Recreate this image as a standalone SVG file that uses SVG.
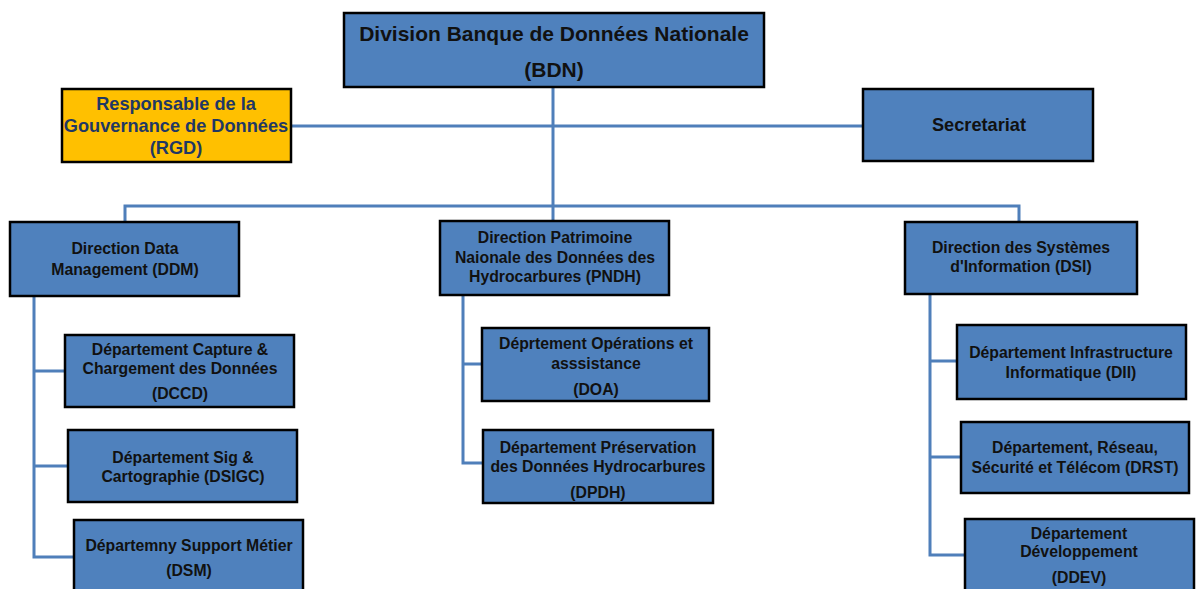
<svg xmlns="http://www.w3.org/2000/svg" width="1200" height="589" viewBox="0 0 1200 589">
<style>
.box{fill:#4F81BD;stroke:#000;stroke-width:2.5}
.gold{fill:#FFC000;stroke:#000;stroke-width:2.5}
.t{font-family:"Liberation Sans",Arial,sans-serif;font-weight:bold;font-size:15.8px;fill:#111;text-anchor:middle;dominant-baseline:central}
.big{font-size:21px}
.rgd{font-size:18.2px;fill:#1F3864}
.sec{font-size:18.2px}
.c{fill:none;stroke:#4F7FBA;stroke-width:3}
</style>
<rect width="1200" height="589" fill="#fff"/>
<g id="connectors">
<path class="c" d="M553 87V221"/>
<path class="c" d="M291 126H863"/>
<path class="c" d="M125 222V206H1019V222"/>
<path class="c" d="M34 296V557H74M34 371H65M34 466H68"/>
<path class="c" d="M463 295V463H483M463 364H482"/>
<path class="c" d="M930 294V555H965M930 361H957M930 457H961"/>
</g>
<g id="bdn"><rect class="box" x="344" y="13" width="420" height="74"/><text class="t big" x="554" y="33">Division Banque de Données Nationale</text><text class="t big" x="554" y="69">(BDN)</text></g>
<g id="rgd"><rect class="gold" x="62" y="89" width="229" height="73"/><text class="t rgd" x="176" y="104">Responsable de la</text><text class="t rgd" x="176" y="126">Gouvernance de Données</text><text class="t rgd" x="176" y="148">(RGD)</text></g>
<g id="sec"><rect class="box" x="863" y="89" width="230" height="72"/><text class="t sec" x="979" y="125">Secretariat</text></g>
<g id="ddm"><rect class="box" x="10" y="222" width="229" height="74"/><text class="t" x="125" y="248">Direction Data</text><text class="t" x="125" y="269">Management (DDM)</text></g>
<g id="pndh"><rect class="box" x="440" y="221" width="229" height="74"/><text class="t" x="555" y="237">Direction Patrimoine</text><text class="t" x="555" y="257">Naionale des Données des</text><text class="t" x="555" y="276">Hydrocarbures (PNDH)</text></g>
<g id="dsi"><rect class="box" x="905" y="222" width="232" height="72"/><text class="t" x="1021" y="247">Direction des Systèmes</text><text class="t" x="1021" y="266">d'Information (DSI)</text></g>
<g id="dccd"><rect class="box" x="65" y="335" width="229" height="72"/><text class="t" x="180" y="349">Département Capture &amp;</text><text class="t" x="180" y="368">Chargement des Données</text><text class="t" x="180" y="393">(DCCD)</text></g>
<g id="dsigc"><rect class="box" x="68" y="430" width="229" height="72"/><text class="t" x="183" y="457">Département Sig &amp;</text><text class="t" x="183" y="476">Cartographie (DSIGC)</text></g>
<g id="dsm"><rect class="box" x="74" y="520" width="229" height="80"/><text class="t" x="189" y="545">Départemny Support Métier</text><text class="t" x="189" y="570">(DSM)</text></g>
<g id="doa"><rect class="box" x="482" y="328" width="227" height="73"/><text class="t" x="596" y="343">Déprtement Opérations et</text><text class="t" x="596" y="363">asssistance</text><text class="t" x="596" y="389">(DOA)</text></g>
<g id="dpdh"><rect class="box" x="483" y="430" width="230" height="73"/><text class="t" x="598" y="447">Département Préservation</text><text class="t" x="598" y="466">des Données Hydrocarbures</text><text class="t" x="598" y="492">(DPDH)</text></g>
<g id="dii"><rect class="box" x="957" y="325" width="229" height="74"/><text class="t" x="1071" y="352">Département Infrastructure</text><text class="t" x="1071" y="372">Informatique (DII)</text></g>
<g id="drst"><rect class="box" x="961" y="422" width="228" height="71"/><text class="t" x="1075" y="447">Département, Réseau,</text><text class="t" x="1075" y="467">Sécurité et Télécom (DRST)</text></g>
<g id="ddev"><rect class="box" x="965" y="519" width="229" height="80"/><text class="t" x="1079" y="533">Département</text><text class="t" x="1079" y="551">Développement</text><text class="t" x="1079" y="577">(DDEV)</text></g>
</svg>
